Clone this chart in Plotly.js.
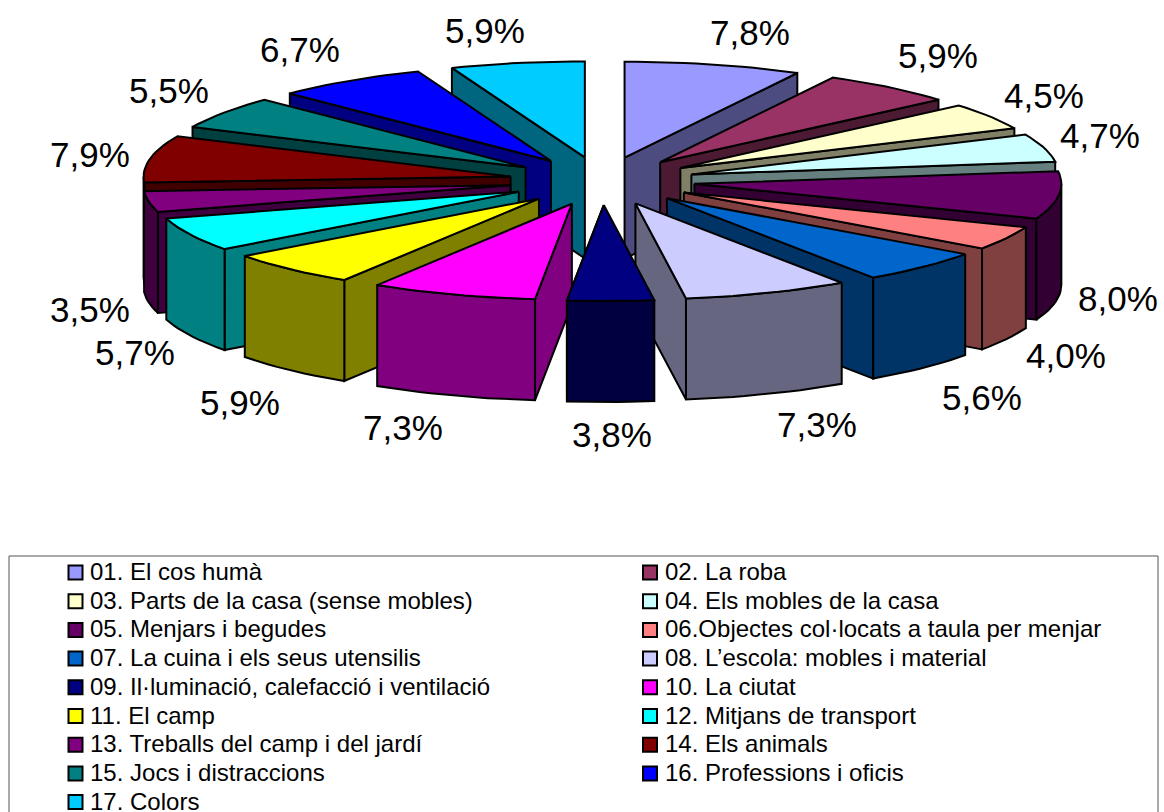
<!DOCTYPE html>
<html>
<head>
<meta charset="utf-8">
<script src="https://cdn.plot.ly/plotly-3.0.1.min.js"></script>
<style>html,body{margin:0;padding:0;background:#fff;overflow:hidden}</style>
</head>
<body>
<div id="chart" style="width:1164px;height:812px"></div>
<script>
const categories = [
  "01. El cos humà","02. La roba","03. Parts de la casa (sense mobles)","04. Els mobles de la casa",
  "05. Menjars i begudes","06.Objectes col·locats a taula per menjar","07. La cuina i els seus utensilis",
  "08. L’escola: mobles i material","09. Il·luminació, calefacció i ventilació","10. La ciutat",
  "11. El camp","12. Mitjans de transport","13. Treballs del camp i del jardí","14. Els animals",
  "15. Jocs i distraccions","16. Professions i oficis","17. Colors"
];
const values = [7.8,5.9,4.5,4.7,8.0,4.0,5.6,7.3,3.8,7.3,5.9,5.7,3.5,7.9,5.5,6.7,5.9];
const topColors = ["#9999FF","#993366","#FFFFCC","#CCFFFF","#660066","#FF8080","#0066CC","#CCCCFF","#000080","#FF00FF","#FFFF00","#00FFFF","#800080","#800000","#008080","#0000FF","#00CCFF"];
const sideColors = ["#4C4C80","#4D1A33","#808066","#668080","#330033","#804040","#003366","#666680","#000040","#800080","#808000","#008080","#400040","#400000","#004040","#000080","#006680"];
const labelX = [750,938,1044,1100,1118,1066,982,817,612,403,240,135,90,90,169,300,485];
const labelY = [32,55,95,135,298,355,397,424,434,427,402,352,309,154,90,49,30];

// projection of the exploded 3D pie
const cx = 602, cy = 181, rx = 367, ry = 96, ex = 93, ey = 24, depth = 101;
const rad = d => d * Math.PI / 180;
const total = values.reduce((a, b) => a + b, 0);
const slices = [];
let run = 0;
values.forEach((v, i) => {
  const a0 = run / total * 360; run += v;
  const a1 = run / total * 360, m = (a0 + a1) / 2;
  slices.push({i, a0, a1, m, ax: cx + ex * Math.sin(rad(m)), ay: cy - ey * Math.cos(rad(m))});
});
const rimPoint = (s, a) => [s.ax + rx * Math.sin(rad(a)), s.ay - ry * Math.cos(rad(a))];
function poly(pts, fill) {
  const p = pts.concat([pts[0]]);
  return {x: p.map(q => q[0]), y: p.map(q => q[1]), mode: 'lines', type: 'scatter', fill: 'toself',
    fillcolor: fill, line: {color: '#000', width: 2, shape: 'linear'}, hoverinfo: 'skip', showlegend: false};
}
function arc(s, a, b) {
  const n = Math.max(2, Math.ceil((b - a) / 2)), out = [];
  for (let k = 0; k <= n; k++) out.push(rimPoint(s, a + (b - a) * k / n));
  return out;
}
const drop = p => [p[0], p[1] + depth];
const traces = [];
slices.slice().sort((p, q) => Math.abs(q.m - 180) - Math.abs(p.m - 180)).forEach(s => {
  const side = sideColors[s.i], apex = [s.ax, s.ay];
  // radial cut face turned towards the viewer
  const cut = s.m < 180 ? s.a1 : s.a0;
  const e = rimPoint(s, cut);
  traces.push(poly([apex, e, drop(e), drop(apex)], side));
  // outer wall
  const w0 = Math.max(s.a0, 90), w1 = Math.min(s.a1, 270);
  if (w1 > w0) {
    const t = arc(s, w0, w1);
    traces.push(poly(t.concat(t.slice().reverse().map(drop)), side));
  }
  // top face
  traces.push(poly([apex].concat(arc(s, s.a0, s.a1)), topColors[s.i]));
});

// legend
const rowH = 28.7, row0 = 572.5, textLift = 1, colMark = [75.5, 650], colText = [87.5, 662.5];
const legX = categories.map((c, i) => colMark[i % 2]);
const legY = categories.map((c, i) => row0 + rowH * Math.floor(i / 2));
traces.push({x: legX, y: legY, type: 'scatter', mode: 'markers', hoverinfo: 'skip', showlegend: false,
  marker: {symbol: 'square', size: 14, color: topColors, line: {color: '#000', width: 2}}});

const annotations = values.map((v, i) => ({
  x: labelX[i], y: labelY[i], xref: 'x', yref: 'y', showarrow: false, xanchor: 'center', yanchor: 'middle',
  text: v.toFixed(1).replace('.', ',') + '%', font: {family: 'Liberation Sans, Arial', size: 35, color: '#000'}
})).concat(categories.map((c, i) => ({
  x: colText[i % 2], y: legY[i] - textLift, xref: 'x', yref: 'y', showarrow: false, xanchor: 'left', yanchor: 'middle',
  text: c, font: {family: 'Liberation Sans, Arial', size: 24, color: '#000'}
})));

const layout = {
  width: 1164, height: 812, margin: {l: 0, r: 0, t: 0, b: 0},
  paper_bgcolor: '#fff', plot_bgcolor: '#fff', showlegend: false, hovermode: false,
  xaxis: {range: [0, 1164], visible: false, fixedrange: true},
  yaxis: {range: [812, 0], visible: false, fixedrange: true},
  shapes: [{type: 'path', xref: 'x', yref: 'y', path: 'M 9 830 L 9 556 L 1158 556 L 1158 830', line: {color: '#555', width: 1}}],
  annotations
};
Plotly.newPlot('chart', traces, layout, {displayModeBar: false, staticPlot: true});
</script>
</body>
</html>
